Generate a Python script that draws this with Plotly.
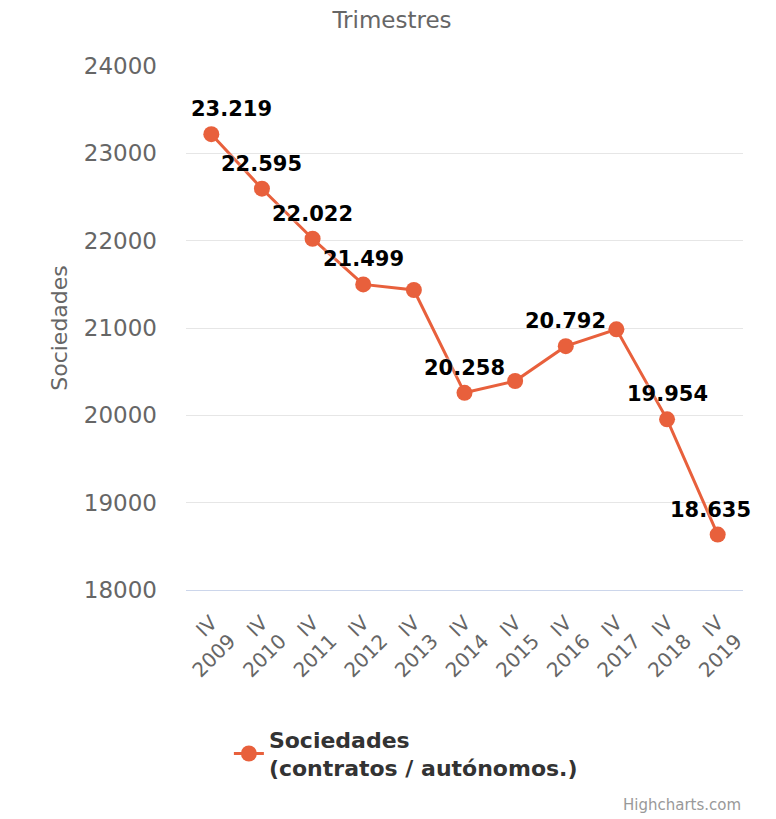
"""Sociedades por trimestre (IV 2009 - IV 2019)."""
import plotly.graph_objects as go

categories = ["IV<br>2009", "IV<br>2010", "IV<br>2011", "IV<br>2012", "IV<br>2013", "IV<br>2014",
              "IV<br>2015", "IV<br>2016", "IV<br>2017", "IV<br>2018", "IV<br>2019"]
sociedades = [23219, 22595, 22022, 21499, 21435, 20258, 20393, 20792, 20985, 19954, 18635]
# etiquetas visibles en el original (Highcharts oculta las que se solapan)
labels = ["23.219", "22.595", "22.022", "21.499", "", "20.258", "", "20.792", "", "19.954", "18.635"]
label_shift = [20, 0, 0, 0, 0, 0, 0, 0, 0, 0, -7]

ORANGE = "#E8603C"
GREY = "#666666"
FONT = "DejaVu Sans"

fig = go.Figure()
fig.add_trace(go.Scatter(
    x=categories,
    y=sociedades,
    mode="lines+markers",
    name="<b>Sociedades<br>(contratos / autónomos.)</b>",
    line=dict(color=ORANGE, width=3),
    marker=dict(color=ORANGE, size=16),
    cliponaxis=False,
))

for cat, val, lab, dx in zip(categories, sociedades, labels, label_shift):
    if not lab:
        continue
    fig.add_annotation(
        x=cat, y=val, text=f"<b>{lab}</b>", showarrow=False,
        yanchor="bottom", yshift=11, xshift=dx,
        font=dict(family=FONT, size=21, color="#000000", shadow="0 0 3px white"),
    )

fig.add_annotation(
    text="Highcharts.com", xref="paper", yref="paper", x=1, y=-0.41,
    xanchor="right", yanchor="middle", showarrow=False,
    font=dict(family=FONT, size=15, color="#999999"),
)

# la página tiene 8 px de margen en el body: la figura ocupa 768x811
fig.update_layout(
    width=768, height=811,
    margin=dict(l=178, r=33, t=58, b=229),
    paper_bgcolor="white", plot_bgcolor="white",
    font=dict(family=FONT, color=GREY),
    title=dict(text="Trimestres", x=0.5, xref="container", xanchor="center",
               y=0.985, yanchor="middle", font=dict(size=23, color=GREY)),
    showlegend=True,
    legend=dict(x=0.077, y=-0.245, xanchor="left", yanchor="top",
                font=dict(size=22, color="#333333"), bgcolor="rgba(0,0,0,0)"),
)
fig.update_xaxes(
    tickangle=-45, tickfont=dict(size=20, color=GREY), ticklabelstandoff=12,
    showgrid=False, showline=True, linecolor="#ccd6eb", linewidth=1,
    range=[-0.5, 10.5], fixedrange=True, automargin=False,
)
fig.update_yaxes(
    range=[18000, 24000], dtick=1000, tickformat="d",
    tickfont=dict(size=23, color=GREY), ticklabelstandoff=28,
    gridcolor="#e6e6e6", gridwidth=1, zeroline=False, automargin=False,
    title=dict(text="Sociedades", font=dict(size=22, color=GREY), standoff=10),
)

fig.write_html("out.html")
